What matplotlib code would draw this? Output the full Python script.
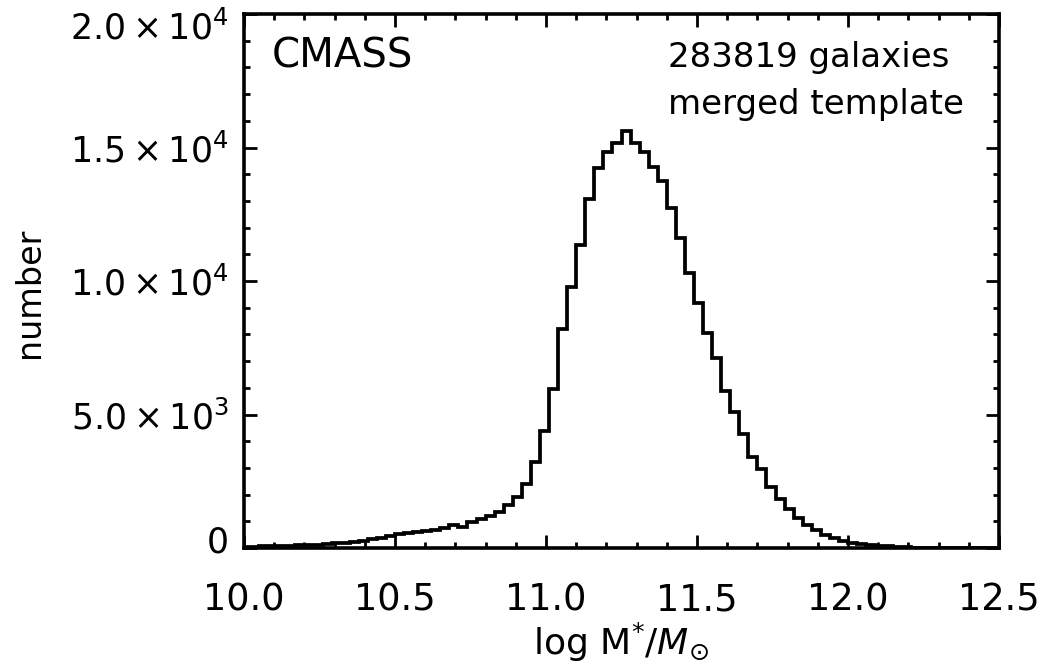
import numpy as np
import matplotlib
matplotlib.use("Agg")
import matplotlib.pyplot as plt
import matplotlib.transforms as mtransforms
from matplotlib.ticker import MultipleLocator, FixedLocator, FixedFormatter

# ---- data ----
bin_width = 0.03
first_edge = 9.99
counts = [
    40, 50, 60, 70, 80, 90, 100, 110, 120, 140,
    170, 200, 240, 280, 320, 380, 450, 510, 570, 610,
    640, 680, 740, 860, 800, 985, 1090, 1210, 1340, 1600,
    1910, 2400, 3220, 4370, 5950, 8190, 9790, 11350, 13070, 14240,
    14840, 15160, 15630, 15160, 14840, 14260, 13760, 12720, 11600, 10290,
    9190, 8040, 7100, 5890, 5100, 4260, 3420, 2950, 2270, 1820,
    1450, 1110, 850, 670, 500, 360, 260, 200, 150, 110,
    85, 60, 40, 25, 15, 10, 5, 0, 0, 0,
    0, 0, 0, 0,
]
edges = first_edge + bin_width * np.arange(len(counts) + 1)

xticks = [10.0, 10.5, 11.0, 11.5, 12.0, 12.5]
xticklabels = ["10.0", "10.5", "11.0", "11.5", "12.0", "12.5"]
yticks = [0, 5000, 10000, 15000, 20000]
yticklabels = ["0", r"$5.0\times10^{3}$", r"$1.0\times10^{4}$",
               r"$1.5\times10^{4}$", r"$2.0\times10^{4}$"]

W, H = 1047, 670
fig = plt.figure(figsize=(W / 100, H / 100), dpi=100)
plt.rcParams["mathtext.fontset"] = "dejavusans"

left, right, bottom, top = 244, 999, 548, 14
ax = fig.add_axes([left / W, 1 - bottom / H, (right - left) / W, (bottom - top) / H])

ax.stairs(counts, edges, color="black", linewidth=2.7, baseline=None)

ax.set_xlim(10.0, 12.5)
ax.set_ylim(0, 20000)

ax.xaxis.set_major_locator(FixedLocator(xticks))
ax.xaxis.set_major_formatter(FixedFormatter(xticklabels))
ax.xaxis.set_minor_locator(MultipleLocator(0.1))
ax.yaxis.set_major_locator(FixedLocator(yticks))
ax.yaxis.set_major_formatter(FixedFormatter(yticklabels))
ax.yaxis.set_minor_locator(MultipleLocator(1000))

for s in ax.spines.values():
    s.set_linewidth(2.6)

ax.tick_params(which="both", direction="in", top=True, right=True,
               width=2.0, colors="black")
ax.tick_params(which="major", length=9.4)
ax.tick_params(which="minor", length=4.3)
ax.tick_params(axis="x", which="major", pad=24, labelsize=26.5)
ax.tick_params(axis="y", which="major", pad=11, labelsize=25)

# IDL-like placement: top label nudged down, bottom label nudged up
yt = ax.yaxis.get_major_ticks()
yt[0].label1.set_transform(yt[0].label1.get_transform() +
                           mtransforms.ScaledTranslation(0, 9 / 100, fig.dpi_scale_trans))
yt[-1].label1.set_transform(yt[-1].label1.get_transform() +
                            mtransforms.ScaledTranslation(0, -11 / 100, fig.dpi_scale_trans))

def px(x, y):
    return x / W, 1 - y / H

fig.text(*px(30, 293), "number", rotation=90, ha="center", va="center", fontsize=24)
fig.text(*px(621, 642), r"log M$^{*}$/$M_{\odot}$", ha="center", va="center", fontsize=26)

fig.text(*px(272, 67), "CMASS", ha="left", va="baseline", fontsize=29)
fig.text(*px(668, 67), "283819 galaxies", ha="left", va="baseline", fontsize=24.5)
fig.text(*px(668, 114), "merged template", ha="left", va="baseline", fontsize=24.5)

fig.savefig("out.png", dpi=100)
